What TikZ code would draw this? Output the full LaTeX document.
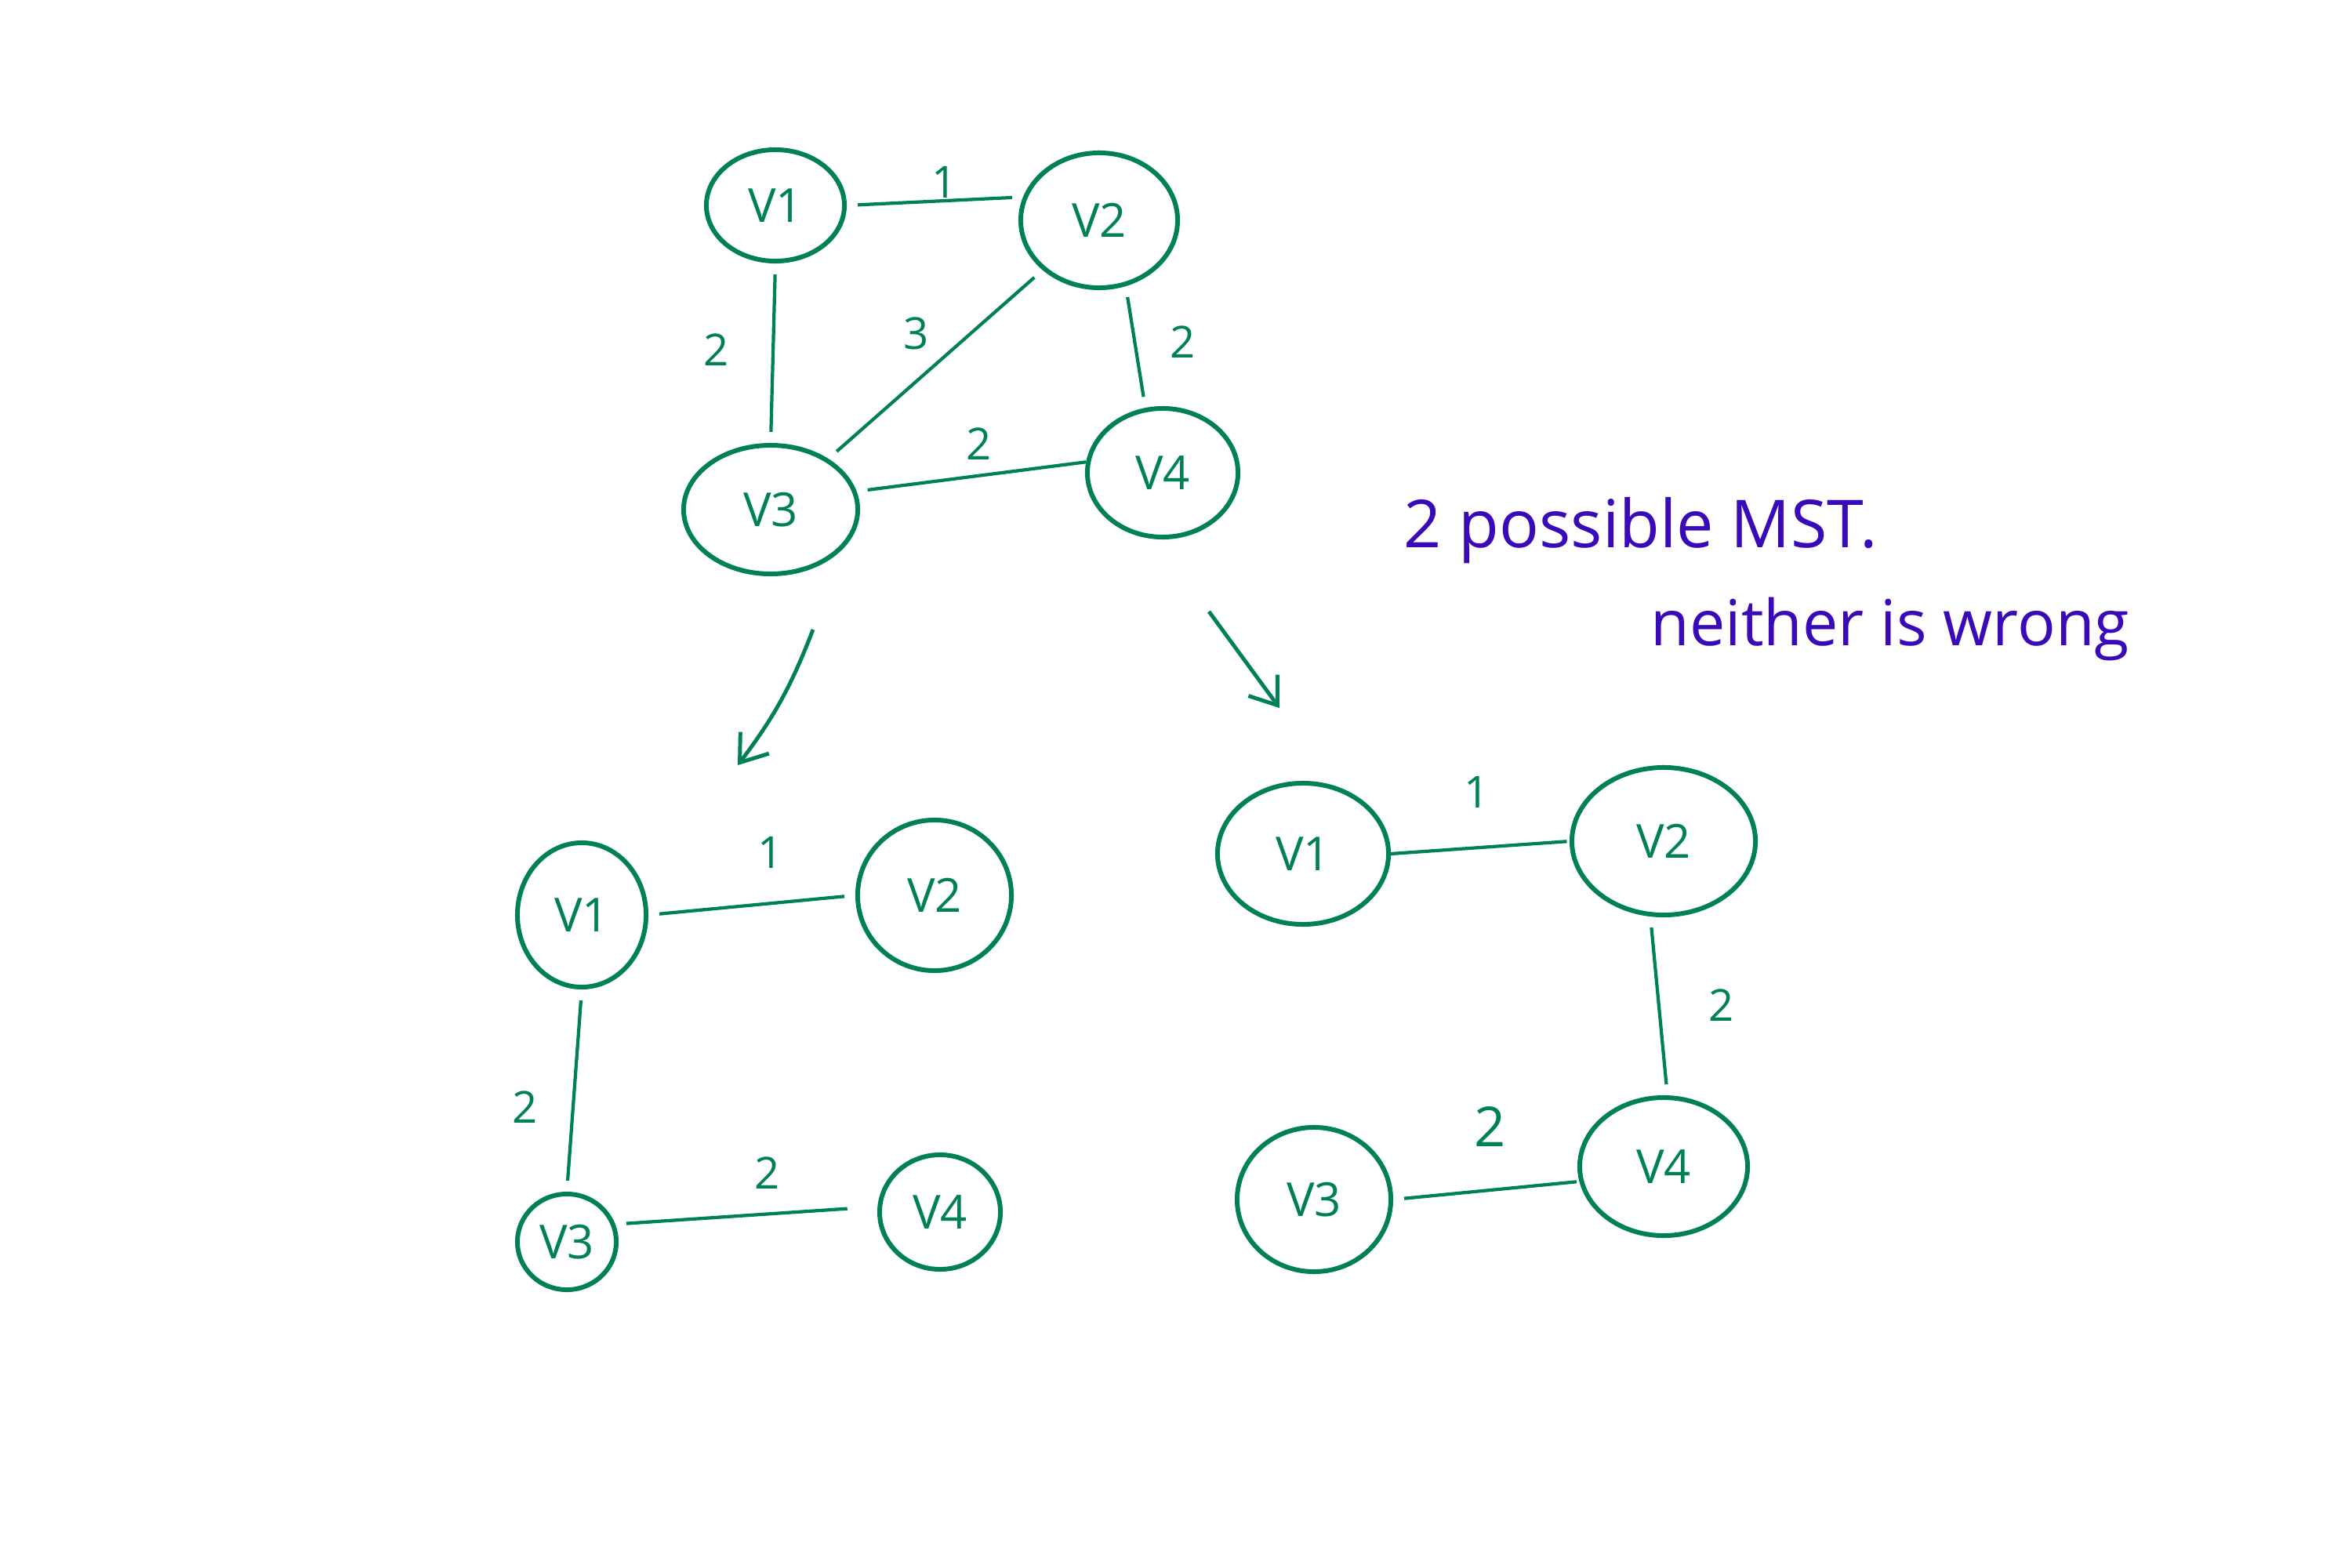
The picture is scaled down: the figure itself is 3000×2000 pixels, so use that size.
\documentclass[tikz,border=0pt]{standalone}
\usepackage{fontspec}
\setmainfont{Open Sans}
\usetikzlibrary{shapes.geometric,arrows.meta}
\definecolor{ink}{RGB}{0,128,88}
\definecolor{pen}{RGB}{58,10,184}
\tikzset{
  vert/.style 2 args={ellipse, draw=ink, line width=1.7pt, inner sep=0pt,
    minimum width=#1, minimum height=#2, text=ink, font=\fontsize{17}{20}\selectfont},
  edge/.style={draw=ink, line width=1.2pt, shorten <=4pt, shorten >=4pt},
  wlabel/.style={text=ink, font=\fontsize{16}{19}\selectfont, inner sep=0pt},
  bigarrow/.style={draw=ink, line width=1.4pt, -{Straight Barb[length=9pt,width=13pt,line width=1.4pt]}},
  note/.style={text=pen, anchor=base west, inner sep=0pt}
}
\begin{document}
\begin{tikzpicture}[x=0.01cm,y=-0.01cm]
\useasboundingbox (0,0) rectangle (3000,2000);
% top graph
\node[vert={1.76cm}{1.42cm}] (a1) at (989,262) {V1};
\node[vert={2.00cm}{1.72cm}] (a2) at (1402,281) {V2};
\node[vert={2.22cm}{1.64cm}] (a3) at (983,650) {V3};
\node[vert={1.92cm}{1.64cm}] (a4) at (1483,603) {V4};
\draw[edge] (a1.east) -- (a2.163);
\draw[edge] (a1.south) -- (a3.north);
\draw[edge] (a2) -- (a3);
\draw[edge] (a2.-68) -- (a4.105);
\draw[edge, shorten >=0pt] (a3.12) -- (a4.172);
\node[wlabel] (la12) at (1205,232) {1};
\node[wlabel] (la13) at (914,446) {2};
\node[wlabel] (la23) at (1169,425) {3};
\node[wlabel] (la24) at (1509,436) {2};
\node[wlabel] (la34) at (1249,566) {2};
% arrows
\coordinate (s1) at (1037,803);
\coordinate (e1) at (941,976);
\coordinate (s2) at (1542,780);
\coordinate (e2) at (1632,903);
\draw[bigarrow] (s1) to[bend left=8] (e1);
\draw[bigarrow] (s2) -- (e2);
% bottom left graph
\node[vert={1.64cm}{1.84cm}] (b1) at (742,1167) {V1};
\node[vert={1.96cm}{1.92cm}] (b2) at (1192,1142) {V2};
\node[vert={1.26cm}{1.22cm}] (b3) at (723,1584) {V3};
\node[vert={1.54cm}{1.46cm}] (b4) at (1199,1546) {V4};
\draw[edge] (b1.east) -- (b2.west);
\draw[edge] (b1.south) -- (b3.north);
\draw[edge, shorten >=11pt] (b3.20) -- (b4.175);
\node[wlabel] (lb12) at (983,1087) {1};
\node[wlabel] (lb13) at (670,1412) {2};
\node[wlabel] (lb34) at (979,1496) {2};
% bottom right graph
\node[vert={2.18cm}{1.80cm}] (c1) at (1662,1089) {V1};
\node[vert={2.34cm}{1.88cm}] (c2) at (2122,1073) {V2};
\node[vert={1.96cm}{1.84cm}] (c3) at (1676,1530) {V3};
\node[vert={2.14cm}{1.76cm}] (c4) at (2122,1488) {V4};
\draw[edge, shorten <=0pt, shorten >=1pt] (c1.east) -- (c2.west);
\draw[edge] (c2.-100) -- (c4.87);
\draw[edge, shorten >=1pt] (c3.east) -- (c4.190);
\node[wlabel] (lc12) at (1884,1010) {1};
\node[wlabel] (lc24) at (2196,1282) {2};
\node[wlabel, font=\fontsize{20}{24}\selectfont] (lc34) at (1901,1437) {2};
% note
\node[note, font=\fontsize{24}{29}\selectfont] (n1) at (1790,698) {2 possible MST.};
\node[note, font=\fontsize{23}{28}\selectfont] (n2) at (2105,823) {neither is wrong};
\end{tikzpicture}
\end{document}
